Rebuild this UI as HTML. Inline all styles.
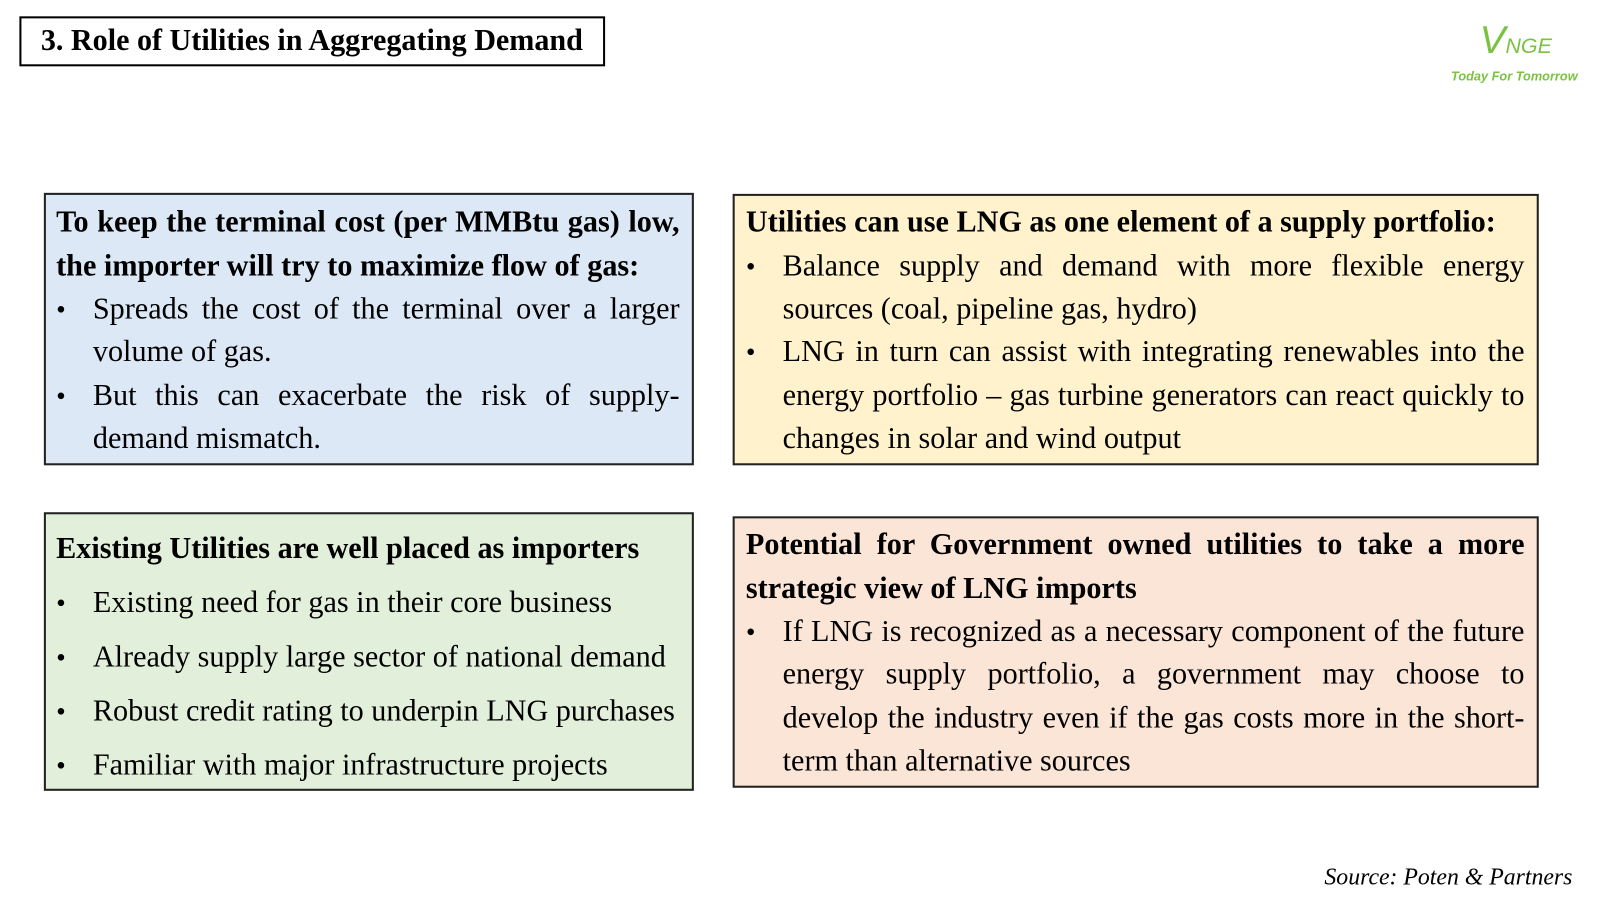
<!DOCTYPE html><html><head><style>
body{margin:0;width:1600px;height:900px;background:#fff;overflow:hidden}
#c{position:absolute;left:0;top:0;width:1568px;height:882px;transform:scale(1.0204);transform-origin:0 0;font-family:"Liberation Serif",serif;color:#000}
.box{position:absolute;border:2px solid #222;box-sizing:border-box}
.l{position:absolute;font-size:29.6px;line-height:42px;height:42px;white-space:nowrap}
.j{white-space:normal;text-align:justify;text-align-last:justify}
b{font-weight:bold}
.bu{position:absolute;font-size:27px;line-height:42px}
</style></head><body><div id="c">
<div class="box" style="left:19px;top:16px;width:574px;height:49px;border-color:#000"></div>
<div style="position:absolute;left:40px;top:21px;font-size:29.5px;font-weight:bold;line-height:38px;white-space:nowrap">3. Role of Utilities in Aggregating Demand</div>
<div style="position:absolute;left:1450px;top:20px;color:#7cc242;font-family:'Liberation Sans',sans-serif;font-style:italic;font-size:38px;line-height:40px;white-space:nowrap">V<span style="font-size:21px">NGE</span></div>
<div style="position:absolute;left:1422px;top:68px;color:#7cc242;font-family:'Liberation Sans',sans-serif;font-style:italic;font-weight:bold;font-size:12.5px;white-space:nowrap">Today For Tomorrow</div>

<div class="box" style="left:43px;top:189px;width:637px;height:267px;background:#dce8f5"></div>
<div class="l j" style="left:55px;width:611px;top:197px"><b>To keep the terminal cost (per MMBtu gas) low,</b></div>
<div class="l" style="left:55px;top:240px"><b>the importer will try to maximize flow of gas:</b></div>
<div class="bu" style="left:55px;top:282px">•</div>
<div class="l j" style="left:91px;width:575px;top:282px">Spreads the cost of the terminal over a larger</div>
<div class="l" style="left:91px;top:324px">volume of gas.</div>
<div class="bu" style="left:55px;top:367px">•</div>
<div class="l j" style="left:91px;width:575px;top:367px">But this can exacerbate the risk of supply-</div>
<div class="l" style="left:91px;top:409px">demand mismatch.</div>

<div class="box" style="left:718px;top:190px;width:790px;height:266px;background:#fff2cc"></div>
<div class="l" style="left:731px;top:197px"><b>Utilities can use LNG as one element of a supply portfolio:</b></div>
<div class="bu" style="left:731px;top:240px">•</div>
<div class="l j" style="left:767px;width:727px;top:240px">Balance supply and demand with more flexible energy</div>
<div class="l" style="left:767px;top:282px">sources (coal, pipeline gas, hydro)</div>
<div class="bu" style="left:731px;top:324px">•</div>
<div class="l j" style="left:767px;width:727px;top:324px">LNG in turn can assist with integrating renewables into the</div>
<div class="l j" style="left:767px;width:727px;top:367px">energy portfolio – gas turbine generators can react quickly to</div>
<div class="l" style="left:767px;top:409px">changes in solar and wind output</div>

<div class="box" style="left:43px;top:502px;width:637px;height:273px;background:#e2efda"></div>
<div class="l" style="left:55px;top:517px"><b>Existing Utilities are well placed as importers</b></div>
<div class="bu" style="left:55px;top:570px">•</div>
<div class="l" style="left:91px;top:570px">Existing need for gas in their core business</div>
<div class="bu" style="left:55px;top:623px">•</div>
<div class="l" style="left:91px;top:623px">Already supply large sector of national demand</div>
<div class="bu" style="left:55px;top:676px">•</div>
<div class="l" style="left:91px;top:676px">Robust credit rating to underpin LNG purchases</div>
<div class="bu" style="left:55px;top:729px">•</div>
<div class="l" style="left:91px;top:729px">Familiar with major infrastructure projects</div>

<div class="box" style="left:718px;top:506px;width:790px;height:266px;background:#fbe5d6"></div>
<div class="l j" style="left:731px;width:763px;top:513px"><b>Potential for Government owned utilities to take a more</b></div>
<div class="l" style="left:731px;top:556px"><b>strategic view of LNG imports</b></div>
<div class="bu" style="left:731px;top:598px">•</div>
<div class="l j" style="left:767px;width:727px;top:598px">If LNG is recognized as a necessary component of the future</div>
<div class="l j" style="left:767px;width:727px;top:640px">energy supply portfolio, a government may choose to</div>
<div class="l j" style="left:767px;width:727px;top:683px">develop the industry even if the gas costs more in the short-</div>
<div class="l" style="left:767px;top:725px">term than alternative sources</div>

<div style="position:absolute;right:27px;top:847px;font-style:italic;font-size:23.3px;white-space:nowrap">Source: Poten &amp; Partners</div>
</div></body></html>
